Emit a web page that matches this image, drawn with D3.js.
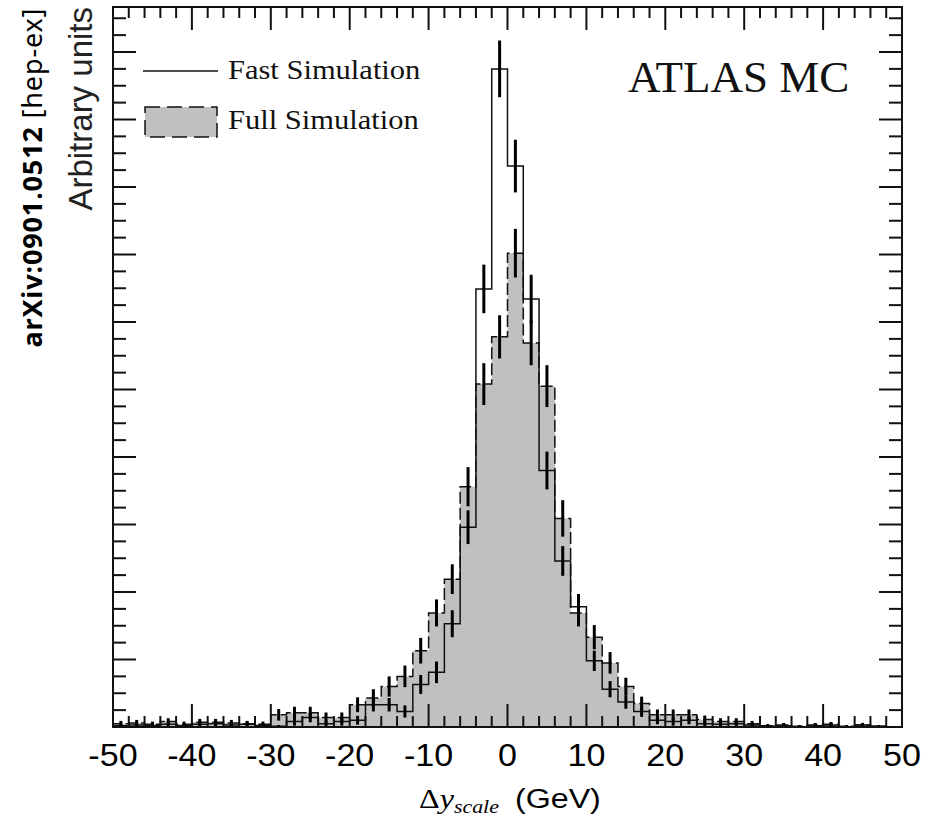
<!DOCTYPE html>
<html>
<head>
<meta charset="utf-8">
<script src="https://cdn.jsdelivr.net/npm/d3@7.9.0/dist/d3.min.js"></script>
<style>
  body { margin: 0; background: #fff; }
  svg { display: block; }
</style>
</head>
<body>
<svg id="chart" width="928" height="819"></svg>
<script>
// bin lower edges, 2 GeV wide, from -50 to 48
const binEdges = d3.range(-50, 50, 2);
const binWidth = 2;

// Fast Simulation (open histogram)
const fastValues = [
  0.02, 0.03, 0.02, 0.04, 0.02, 0.04, 0.05, 0.03, 0.04, 0.02,
  0.01, 0.08, 0.14, 0.05, 0.08, 0.10, 0.33, 0.33, 0.23, 0.63,
  0.81, 1.53, 2.96, 6.49, 9.75, 8.31, 6.34, 3.80, 2.46, 1.78,
  0.98, 0.56, 0.37, 0.23, 0.10, 0.08, 0.10, 0.05, 0.04, 0.05,
  0.03, 0.01, 0.02, 0.00, 0.02, 0.03, 0.00, 0.03, 0.01, 0.00
];
const fastErrors = [
  0.030, 0.035, 0.030, 0.040, 0.030, 0.040, 0.045, 0.035, 0.040, 0.030,
  0.020, 0.060, 0.070, 0.045, 0.060, 0.065, 0.100, 0.100, 0.090, 0.140,
  0.160, 0.200, 0.250, 0.360, 0.420, 0.390, 0.360, 0.280, 0.220, 0.190,
  0.150, 0.120, 0.100, 0.080, 0.060, 0.060, 0.060, 0.040, 0.040, 0.040,
  0.030, 0.020, 0.030, 0.000, 0.030, 0.030, 0.000, 0.030, 0.020, 0.000
];

// Full Simulation (grey filled, dashed outline)
const fullValues = [
  0.05, 0.06, 0.04, 0.08, 0.04, 0.07, 0.07, 0.06, 0.05, 0.04,
  0.18, 0.21, 0.21, 0.14, 0.14, 0.33, 0.43, 0.60, 0.75, 1.13,
  1.69, 2.19, 3.56, 5.08, 5.78, 7.02, 5.69, 5.05, 3.09, 1.69,
  1.33, 0.95, 0.60, 0.35, 0.18, 0.18, 0.18, 0.11, 0.08, 0.08,
  0.05, 0.02, 0.03, 0.01, 0.03, 0.04, 0.01, 0.03, 0.01, 0.00
];
const fullErrors = [
  0.040, 0.045, 0.040, 0.050, 0.040, 0.050, 0.050, 0.045, 0.040, 0.040,
  0.085, 0.090, 0.090, 0.075, 0.075, 0.110, 0.130, 0.150, 0.160, 0.190,
  0.200, 0.220, 0.290, 0.310, 0.320, 0.360, 0.330, 0.310, 0.270, 0.200,
  0.180, 0.160, 0.130, 0.100, 0.080, 0.080, 0.080, 0.060, 0.050, 0.050,
  0.040, 0.025, 0.030, 0.020, 0.030, 0.035, 0.020, 0.030, 0.020, 0.000
];

const xTickLabels = [-50, -40, -30, -20, -10, 0, 10, 20, 30, 40, 50];
const legendLabels = ['Fast Simulation', 'Full Simulation'];

const plotLeft = 113, plotRight = 902, plotTop = 7, plotBottom = 727;

let x = d3.scaleLinear().domain([-50, 50]).range([plotLeft, plotRight]);
let y = d3.scaleLinear().domain([0, 720 / 67.5]).range([plotBottom, plotTop]);

let svg = d3.select('#chart');

function stepPoints(values) {
  let pts = [[binEdges[0], 0]];
  values.forEach((v, i) => {
    pts.push([binEdges[i], v]);
    pts.push([binEdges[i] + binWidth, v]);
  });
  pts.push([binEdges[binEdges.length - 1] + binWidth, 0]);
  return pts;
}

let line = d3.line().x((d) => x(d[0])).y((d) => y(d[1]));
let area = d3.area().x((d) => x(d[0])).y0(y(0)).y1((d) => y(d[1]));

// full simulation: grey fill + dashed outline
svg.append('path')
  .attr('d', area(stepPoints(fullValues)))
  .attr('fill', '#c0c0c0');
svg.append('path')
  .attr('d', line(stepPoints(fullValues)))
  .attr('fill', 'none')
  .attr('stroke', '#111')
  .attr('stroke-width', 1.5)
  .attr('stroke-dasharray', '12,4');

// fast simulation: plain line
svg.append('path')
  .attr('d', line(stepPoints(fastValues)))
  .attr('fill', 'none')
  .attr('stroke', '#111')
  .attr('stroke-width', 1.5);

// error bars
function errorBars(values, errors) {
  svg.append('g')
    .selectAll('line')
    .data(values)
    .join('line')
    .attr('x1', (d, i) => x(binEdges[i] + binWidth / 2))
    .attr('x2', (d, i) => x(binEdges[i] + binWidth / 2))
    .attr('y1', (d, i) => y(Math.max(0, d - errors[i])))
    .attr('y2', (d, i) => y(d + errors[i]))
    .attr('stroke', '#000')
    .attr('stroke-width', 3);
}
errorBars(fullValues, fullErrors);
errorBars(fastValues, fastErrors);

// axes: ticks inside the frame on all four sides
let xMinor = d3.range(-50, 51, 2);
let yMinor = d3.range(0, 10.6, 0.25);
let ticks = svg.append('g').attr('stroke', '#111').attr('stroke-width', 2);

xMinor.forEach((v) => {
  let len = v % 10 === 0 ? 23 : 11;
  ticks.append('line').attr('x1', x(v)).attr('x2', x(v))
    .attr('y1', plotBottom).attr('y2', plotBottom - len);
  ticks.append('line').attr('x1', x(v)).attr('x2', x(v))
    .attr('y1', plotTop).attr('y2', plotTop + len);
});
yMinor.forEach((v) => {
  let len = Math.abs(v - Math.round(v)) < 1e-6 ? 23 : 13;
  ticks.append('line').attr('x1', plotLeft).attr('x2', plotLeft + len)
    .attr('y1', y(v)).attr('y2', y(v));
  ticks.append('line').attr('x1', plotRight).attr('x2', plotRight - len)
    .attr('y1', y(v)).attr('y2', y(v));
});

svg.append('rect')
  .attr('x', plotLeft).attr('y', plotTop)
  .attr('width', plotRight - plotLeft).attr('height', plotBottom - plotTop)
  .attr('fill', 'none')
  .attr('stroke', '#111')
  .attr('stroke-width', 2);

// x tick labels (the original lettering is a bit wide, hence the scale)
svg.append('g')
  .selectAll('text')
  .data(xTickLabels)
  .join('text')
  .attr('transform', (d) => `translate(${x(d)},766) scale(1.1,1)`)
  .attr('text-anchor', 'middle')
  .attr('font-family', 'Liberation Sans, Arial, sans-serif')
  .attr('font-size', 31)
  .text((d) => d);

// x axis title
let xt = svg.append('text')
  .attr('transform', 'translate(419,808) scale(1.15,1)')
  .attr('font-size', 28);
xt.append('tspan').attr('font-family', 'Liberation Serif, serif').text('Δ');
xt.append('tspan').attr('font-family', 'Liberation Serif, serif').attr('font-style', 'italic').text('y');
xt.append('tspan').attr('font-family', 'Liberation Serif, serif').attr('font-style', 'italic')
  .attr('font-size', 19).attr('dy', 5).text('scale');
xt.append('tspan').attr('font-family', 'Liberation Sans, Arial, sans-serif')
  .attr('dy', -5).attr('dx', 14).text('(GeV)');

// y axis title
svg.append('text')
  .attr('transform', 'translate(92,7) rotate(-90)')
  .attr('text-anchor', 'end')
  .attr('font-family', 'Liberation Sans, Arial, sans-serif')
  .attr('font-size', 33)
  .attr('fill', '#222')
  .text('Arbitrary units');

// arXiv stamp
let stamp = svg.append('text')
  .attr('transform', 'translate(42,178) rotate(-90)')
  .attr('text-anchor', 'middle')
  .attr('font-family', 'Noto Sans, sans-serif')
  .attr('font-size', 27)
  .attr('textLength', 339)
  .attr('lengthAdjust', 'spacing');
stamp.append('tspan').attr('font-weight', 'bold').text('arXiv:0901.0512');
stamp.append('tspan').text(' [hep-ex]');

// legend
svg.append('line')
  .attr('x1', 143).attr('x2', 218)
  .attr('y1', 71).attr('y2', 71)
  .attr('stroke', '#111').attr('stroke-width', 1.5);
svg.append('rect')
  .attr('x', 145).attr('y', 107)
  .attr('width', 72).attr('height', 30)
  .attr('fill', '#c0c0c0')
  .attr('stroke', '#111').attr('stroke-width', 1.5)
  .attr('stroke-dasharray', '15,7');
svg.append('g')
  .selectAll('text')
  .data(legendLabels)
  .join('text')
  .attr('transform', (d, i) => `translate(228,${79 + i * 50}) scale(1.09,1)`)
  .attr('font-family', 'Liberation Serif, serif')
  .attr('font-size', 28)
  .attr('fill', '#111')
  .text((d) => d);

svg.append('text')
  .attr('x', 628)
  .attr('y', 92)
  .attr('font-family', 'Liberation Serif, serif')
  .attr('font-size', 45)
  .attr('fill', '#111')
  .text('ATLAS MC');
</script>
</body>
</html>
